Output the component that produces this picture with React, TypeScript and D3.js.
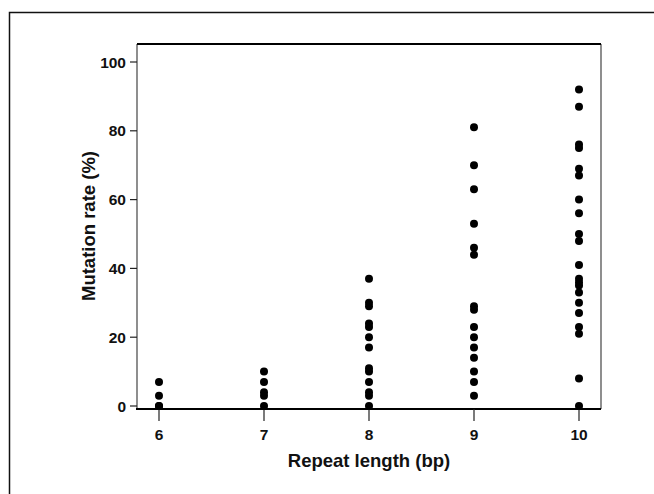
import React from 'react';
import * as d3 from 'd3';

// repeat length categories and mutation rate (%) of each observed locus
const repeatLengths = [6, 7, 8, 9, 10];
const rates6 = [7, 3, 0, 0];
const rates7 = [10, 7, 4, 3, 0];
const rates8 = [37, 30, 29, 24, 23, 20, 17, 11, 10, 7, 4, 3, 0];
const rates9 = [81, 70, 63, 53, 46, 44, 29, 28, 23, 20, 17, 14, 10, 7, 3];
const rates10 = [92, 87, 76, 75, 69, 67, 60, 56, 50, 48, 41, 37, 36, 35, 33, 30, 27, 23, 21, 8, 0];
const yTicks = [0, 20, 40, 60, 80, 100];

const allRates = [rates6, rates7, rates8, rates9, rates10];

const width = 654;
const height = 494;
const box = { left: 137, right: 601, top: 44, bottom: 409 };
const font = '"Liberation Sans", Arial, Helvetica, sans-serif';

function App() {
  const x = d3.scaleLinear().domain([6, 10]).range([159, 579]);
  const y = d3.scaleLinear().domain([0, 100]).range([406, 62]);

  const points = repeatLengths.flatMap((len, i) => allRates[i].map(v => ({ len, v })));

  return (
    <svg width={width} height={height} style={{ position: 'absolute', left: 0, top: 0 }}>
      <rect x={0} y={0} width={width} height={height} fill="white" />
      {/* outer frame */}
      <path d={`M9.5,${height + 2} V12.5 H${width + 2}`} fill="none" stroke="#111" strokeWidth={1.5} />

      {/* plot box */}
      <line x1={box.left} x2={box.left} y1={box.top} y2={box.bottom} stroke="#444" strokeWidth={1.2} />
      <line x1={box.right} x2={box.right} y1={box.top} y2={box.bottom} stroke="#444" strokeWidth={1.2} />
      <line x1={box.left} x2={box.right} y1={box.top} y2={box.top} stroke="#000" strokeWidth={2} />
      <line x1={box.left - 1} x2={box.right} y1={box.bottom} y2={box.bottom} stroke="#000" strokeWidth={2} />

      {/* y axis */}
      {yTicks.map(t => (
        <g key={t}>
          <line x1={box.left - 7} x2={box.left} y1={y(t)} y2={y(t)} stroke="#222" strokeWidth={1.2} />
          <text x={box.left - 11} y={y(t)} dy="0.36em" textAnchor="end"
            fontFamily={font} fontWeight="bold" fontSize={15.5} fill="#111">{t}</text>
        </g>
      ))}
      <text transform={`translate(95,226) rotate(-90)`} textAnchor="middle"
        fontFamily={font} fontWeight="bold" fontSize={18.5} fill="#111">Mutation rate (%)</text>

      {/* x axis */}
      {repeatLengths.map(t => (
        <g key={t}>
          <line x1={x(t)} x2={x(t)} y1={box.bottom} y2={box.bottom + 12} stroke="#222" strokeWidth={1.2} />
          <text x={x(t)} y={440} textAnchor="middle"
            fontFamily={font} fontWeight="bold" fontSize={15.5} fill="#111">{t}</text>
        </g>
      ))}
      <text x={369} y={467} textAnchor="middle"
        fontFamily={font} fontWeight="bold" fontSize={18.5} fill="#111">Repeat length (bp)</text>

      {/* points */}
      {points.map((p, i) => (
        <circle key={i} cx={x(p.len)} cy={y(p.v)} r={4} fill="#000" />
      ))}
    </svg>
  );
}

export default App;
